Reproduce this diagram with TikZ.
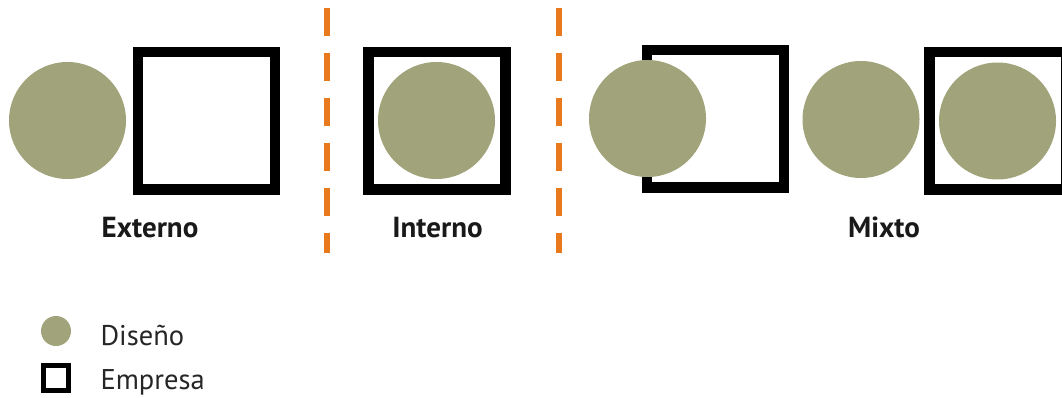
\documentclass[tikz,border=0pt]{standalone}
\usepackage{fontspec}
\setmainfont{PT Sans}
\definecolor{olive}{RGB}{161,164,122}
\definecolor{accent}{RGB}{232,121,29}
\begin{document}
\begin{tikzpicture}[x=1pt, y=-1pt, line join=miter,
        disc/.style={circle, fill=olive, minimum size=117pt, inner sep=0pt, outer sep=0pt},
        firm/.style={rectangle, draw=black, line width=10.5pt, minimum width=137pt, minimum height=137.5pt, inner sep=0pt},
        caption/.style={anchor=base, font=\fontsize{29}{32}\selectfont\bfseries, text=black!90},
        divider/.style={accent, line width=6pt, dash pattern=on 28pt off 17pt},
        key/.style={anchor=base west, font=\fontsize{28.5}{32}\selectfont, text=black!85}]
    \useasboundingbox (0, 0) rectangle (1062, 398);
    % externo
    \node[disc] (extdisc) at (67.5, 120.5) {};
    \node[firm] (extfirm) at (206.5, 121) {};
    \node[caption] (extlabel) at (150, 237) {Externo};
    % interno
    \node[firm] (intfirm) at (437, 121) {};
    \node[disc] (intdisc) at (436.5, 120.5) {};
    \node[caption] (intlabel) at (437.5, 237) {Interno};
    % mixto
    \node[firm] (mixfirmA) at (715.5, 119) {};
    \node[disc] (mixdiscA) at (647.5, 118.5) {};
    \node[disc] (mixdiscB) at (861, 119.5) {};
    \node[firm] (mixfirmC) at (998, 121) {};
    \node[disc] (mixdiscC) at (997.5, 121) {};
    \node[caption] (mixlabel) at (884, 237) {Mixto};
    % separadores
    \coordinate (sepAtop) at (327, 8);
    \coordinate (sepAbot) at (327, 253);
    \coordinate (sepBtop) at (559, 8);
    \coordinate (sepBbot) at (559, 253);
    \draw[divider] (sepAtop) -- (sepAbot);
    \draw[divider] (sepBtop) -- (sepBbot);
    % leyenda
    \node[circle, fill=olive, minimum size=30pt, inner sep=0pt] (keydisc) at (56, 331) {};
    \node[rectangle, draw=black, line width=5pt, minimum size=25pt, inner sep=0pt] (keyfirm) at (56, 378) {};
    \node[key] (keydisctext) at (97, 345) {Diseño};
    \node[key] (keyfirmtext) at (97, 389) {Empresa};
\end{tikzpicture}
\end{document}
